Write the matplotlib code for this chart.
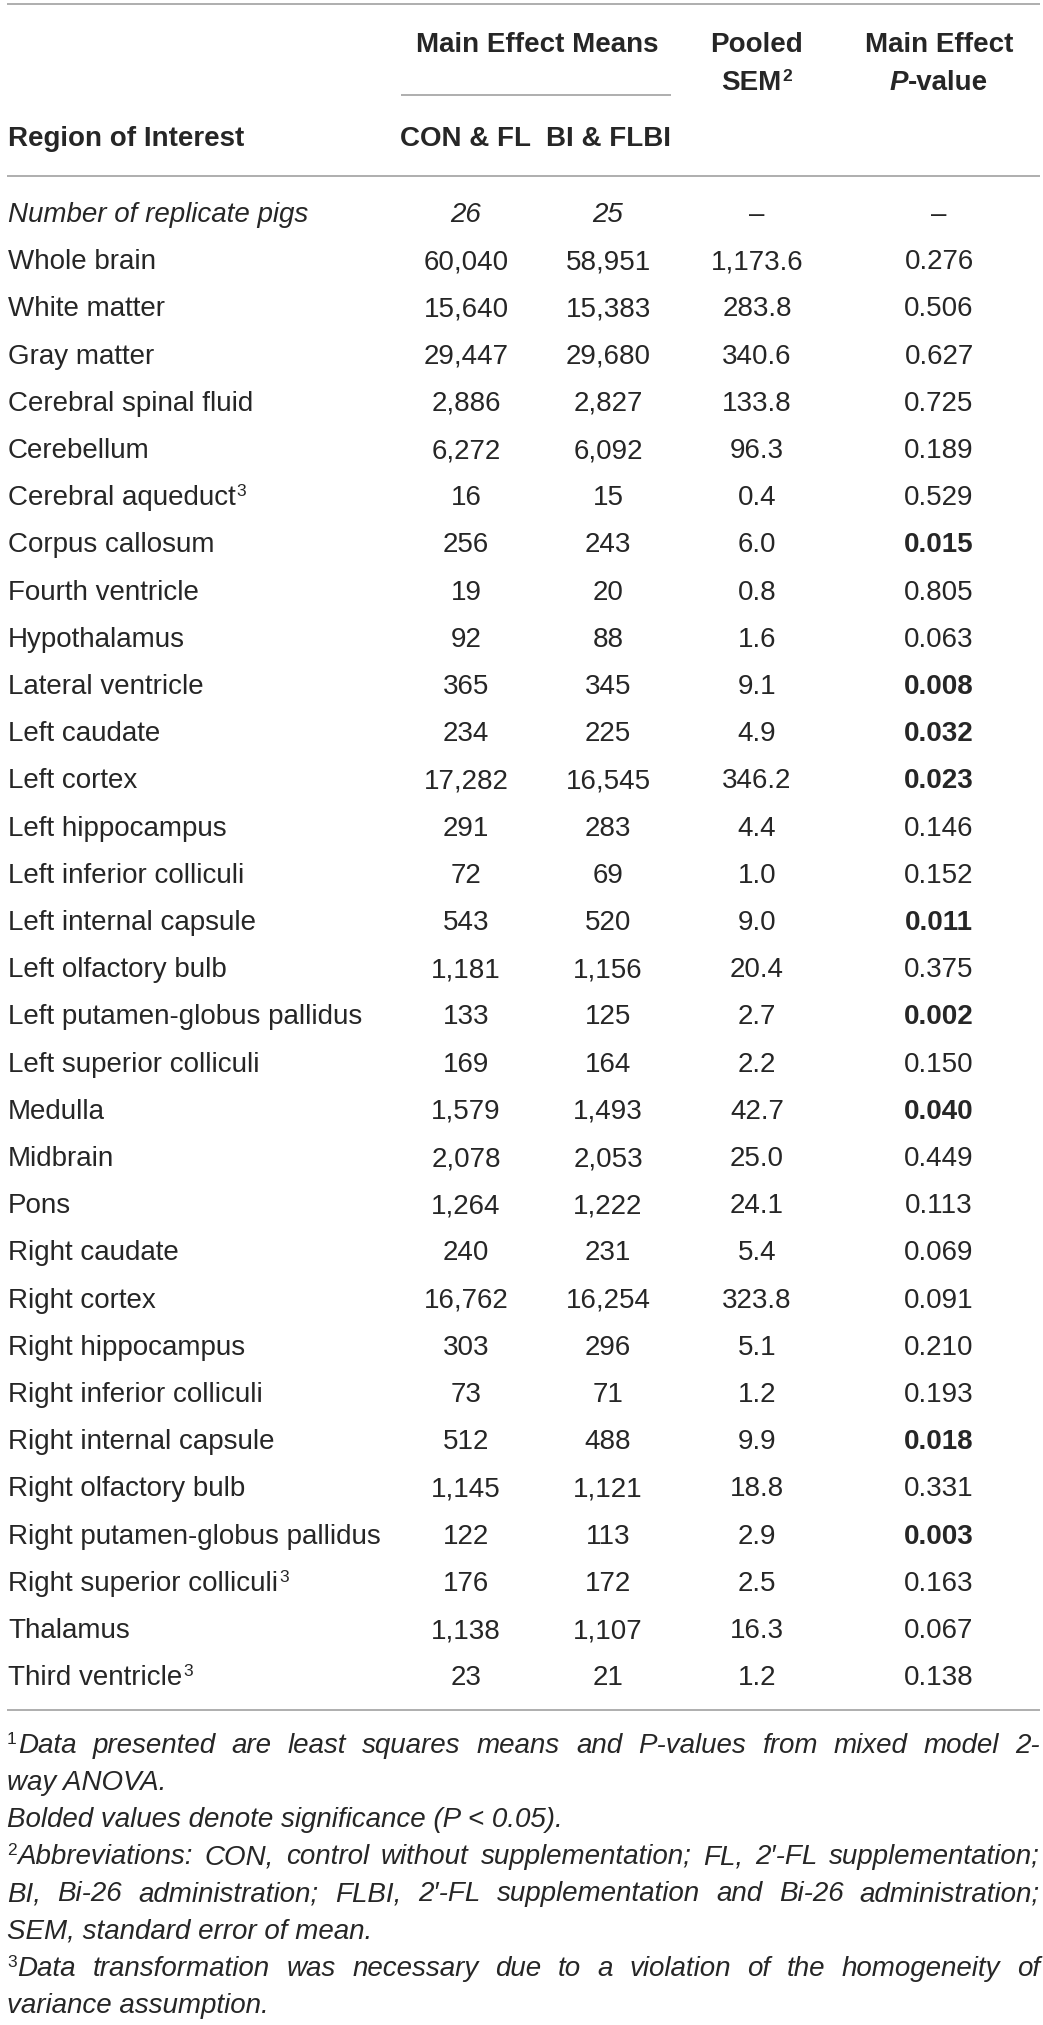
import matplotlib.pyplot as plt

# table data
regions = ['Whole brain', 'White matter', 'Gray matter', 'Cerebral spinal fluid',
           'Cerebellum', 'Cerebral aqueduct', 'Corpus callosum', 'Fourth ventricle',
           'Hypothalamus', 'Lateral ventricle', 'Left caudate', 'Left cortex',
           'Left hippocampus', 'Left inferior colliculi', 'Left internal capsule',
           'Left olfactory bulb', 'Left putamen-globus pallidus',
           'Left superior colliculi', 'Medulla', 'Midbrain', 'Pons',
           'Right caudate', 'Right cortex', 'Right hippocampus',
           'Right inferior colliculi', 'Right internal capsule',
           'Right olfactory bulb', 'Right putamen-globus pallidus',
           'Right superior colliculi', 'Thalamus', 'Third ventricle']
region_notes = ['', '', '', '', '', '3', '', '', '', '', '', '', '', '', '', '',
                '', '', '', '', '', '', '', '', '', '', '', '', '3', '', '3']
con_fl = [60040, 15640, 29447, 2886, 6272, 16, 256, 19, 92, 365, 234, 17282,
          291, 72, 543, 1181, 133, 169, 1579, 2078, 1264, 240, 16762, 303, 73,
          512, 1145, 122, 176, 1138, 23]
bi_flbi = [58951, 15383, 29680, 2827, 6092, 15, 243, 20, 88, 345, 225, 16545,
           283, 69, 520, 1156, 125, 164, 1493, 2053, 1222, 231, 16254, 296, 71,
           488, 1121, 113, 172, 1107, 21]
pooled_sem = [1173.6, 283.8, 340.6, 133.8, 96.3, 0.4, 6.0, 0.8, 1.6, 9.1, 4.9,
              346.2, 4.4, 1.0, 9.0, 20.4, 2.7, 2.2, 42.7, 25.0, 24.1, 5.4, 323.8,
              5.1, 1.2, 9.9, 18.8, 2.9, 2.5, 16.3, 1.2]
p_values = [0.276, 0.506, 0.627, 0.725, 0.189, 0.529, 0.015, 0.805, 0.063, 0.008,
            0.032, 0.023, 0.146, 0.152, 0.011, 0.375, 0.002, 0.150, 0.040, 0.449,
            0.113, 0.069, 0.091, 0.210, 0.193, 0.018, 0.331, 0.003, 0.163, 0.067,
            0.138]
replicate_pigs = [26, 25]

footnotes = [
    ('1', 'Data presented are least squares means and P-values from mixed model 2-', True),
    ('', 'way ANOVA.', False),
    ('', 'Bolded values denote significance (P < 0.05).', False),
    ('2', 'Abbreviations: CON, control without supplementation; FL, 2\u2032-FL supplementation;', True),
    ('', 'BI, Bi-26 administration; FLBI, 2\u2032-FL supplementation and Bi-26 administration;', True),
    ('', 'SEM, standard error of mean.', False),
    ('3', 'Data transformation was necessary due to a violation of the homogeneity of', True),
    ('', 'variance assumption.', False),
]

TEXT = '#262626'
RULE = '#a8a8a8'
FAM = ['Liberation Sans', 'DejaVu Sans']
FS = 20
SUP = 12.5

fig = plt.figure(figsize=(10.43, 20.25), dpi=100)
ax = fig.add_axes([0, 0, 1, 1])
ax.set_xlim(0, 1043)
ax.set_ylim(2025, 0)
ax.axis('off')
renderer = fig.canvas.get_renderer()


def put(x, y, s, ha='left', size=FS, weight='normal', style='normal'):
    return ax.text(x, y, s, ha=ha, va='baseline', fontsize=size,
                   fontweight=weight, fontstyle=style, family=FAM, color=TEXT)


def width(t):
    return t.get_window_extent(renderer).width


def put_sup(x, y, s, sup, ha='left', weight='normal', style='normal'):
    # main text followed by a raised small note
    t = put(0, y, s, weight=weight, style=style)
    w = width(t)
    st = put(0, y - 9, sup, size=SUP, weight=weight)
    ws = width(st)
    if ha == 'center':
        x = x - (w + ws + 1) / 2
    t.set_x(x)
    st.set_x(x + w + 1)


def rule(y, x0=7, x1=1040):
    ax.plot([x0, x1], [y, y], color=RULE, lw=1.3, solid_capstyle='butt')


# columns
x_lab, x_con, x_bi, x_sem, x_p = 8, 466, 608, 757, 939
off = 10  # baseline offset from row center

# header
rule(4)
put((x_con + x_bi) / 2, 42 + off, 'Main Effect Means', ha='center', weight='bold')
rule(95, 401, 671)
put(x_sem, 42 + off, 'Pooled', ha='center', weight='bold')
put_sup(x_sem, 80 + off, 'SEM', '2', ha='center', weight='bold')
put(x_p, 42 + off, 'Main Effect', ha='center', weight='bold')
tp = put(0, 80 + off, 'P', weight='bold', style='italic')
tv = put(0, 80 + off, '-value', weight='bold')
wp, wv = width(tp), width(tv)
tp.set_x(x_p - (wp + wv) / 2)
tv.set_x(x_p - (wp + wv) / 2 + wp)
put(x_lab, 136 + off, 'Region of Interest', weight='bold')
put(x_con, 136 + off, 'CON & FL', ha='center', weight='bold')
put(x_bi, 136 + off, 'BI & FLBI', ha='center', weight='bold')
rule(176)

# body
y0, step = 212, 47.2
put(x_lab, y0 + off, 'Number of replicate pigs', style='italic')
put(x_con, y0 + off, str(replicate_pigs[0]), ha='center', style='italic')
put(x_bi, y0 + off, str(replicate_pigs[1]), ha='center', style='italic')
put(x_sem, y0 + off, '\u2013', ha='center')
put(x_p, y0 + off, '\u2013', ha='center')

for i, name in enumerate(regions):
    y = y0 + step * (i + 1) + off
    if region_notes[i]:
        put_sup(x_lab, y, name, region_notes[i])
    else:
        put(x_lab, y, name)
    put(x_con, y, f'{con_fl[i]:,}', ha='center')
    put(x_bi, y, f'{bi_flbi[i]:,}', ha='center')
    put(x_sem, y, f'{pooled_sem[i]:,.1f}', ha='center')
    put(x_p, y, f'{p_values[i]:.3f}', ha='center',
        weight='bold' if p_values[i] < 0.05 else 'normal')

rule(1710)

# footnotes, justified where the original is
fy0, fstep = 1743, 37.1
for k, (mark, line, just) in enumerate(footnotes):
    y = fy0 + fstep * k + off
    x = 7
    if mark:
        st = put(x, y - 9, mark, size=SUP)
        x += width(st) + 1
    if not just:
        put(x, y, line, style='italic')
        continue
    words = line.split(' ')
    size = FS
    while True:
        texts = [put(0, y, w, size=size, style='italic') for w in words]
        ws = [width(t) for t in texts]
        gap = (1040 - x - sum(ws)) / (len(words) - 1)
        if gap >= 0.22 * size or size < 15:
            break
        for t in texts:
            t.remove()
        size -= 0.5
    for t, w in zip(texts, ws):
        t.set_x(x)
        x += w + gap

fig.savefig('out.png', dpi=100)
